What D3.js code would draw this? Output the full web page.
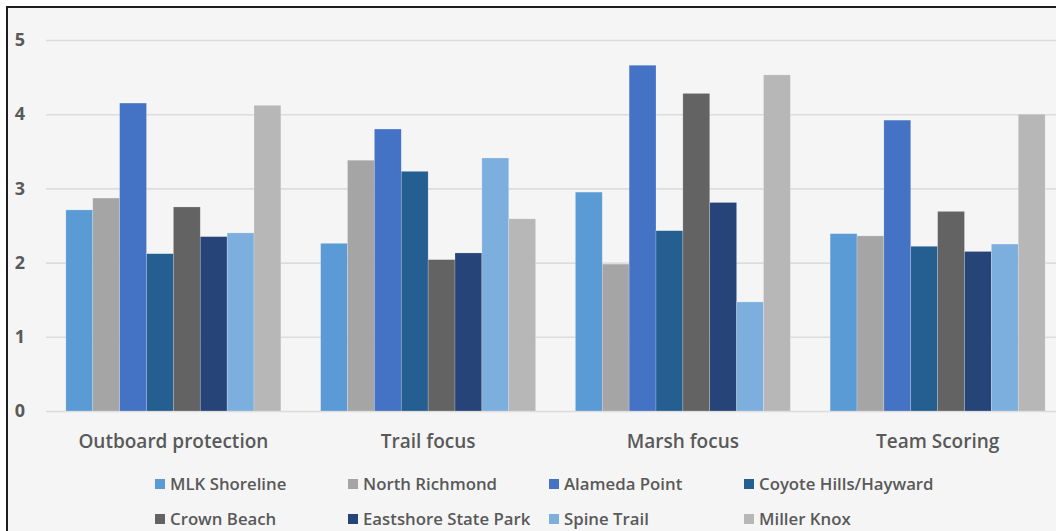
<!DOCTYPE html>
<html>
<head>
<meta charset="utf-8">
<script src="https://cdn.jsdelivr.net/npm/d3@7/dist/d3.min.js"></script>
<style>
  html, body { margin: 0; padding: 0; background: #ffffff; }
  svg { display: block; }
  text { font-family: "Open Sans", "Noto Sans", sans-serif; }
</style>
</head>
<body>
<svg id="chart" width="1056" height="531"></svg>
<script>
// Criteria being scored
const categories = ["Outboard protection", "Trail focus", "Marsh focus", "Team Scoring"];

// Sites (one bar per site in each criterion group)
const sites = ["MLK Shoreline", "North Richmond", "Alameda Point", "Coyote Hills/Hayward",
               "Crown Beach", "Eastshore State Park", "Spine Trail", "Miller Knox"];

// Scores per site, in the order of `categories`
const mlkShoreline       = [2.71, 2.26, 2.95, 2.39];
const northRichmond      = [2.87, 3.38, 1.98, 2.36];
const alamedaPoint       = [4.15, 3.80, 4.66, 3.92];
const coyoteHillsHayward = [2.12, 3.23, 2.43, 2.22];
const crownBeach         = [2.75, 2.04, 4.28, 2.69];
const eastshoreStatePark = [2.35, 2.13, 2.81, 2.15];
const spineTrail         = [2.40, 3.41, 1.47, 2.25];
const millerKnox         = [4.12, 2.59, 4.53, 4.00];

const yTicks = [0, 1, 2, 3, 4, 5];

const seriesValues = [mlkShoreline, northRichmond, alamedaPoint, coyoteHillsHayward,
                      crownBeach, eastshoreStatePark, spineTrail, millerKnox];

const colors = ["#5b9bd5", "#a5a5a5", "#4472c4", "#255e91",
                "#636363", "#264478", "#7cafdd", "#b7b7b7"];

const svg = d3.select("#chart");

// Framed panel (continues past the right and bottom edges)
svg.append("rect")
  .attr("x", 7).attr("y", 7)
  .attr("width", 1070).attr("height", 540)
  .attr("fill", "#f5f5f5")
  .attr("stroke", "#1c1c1c")
  .attr("stroke-width", 2);

const plotLeft = 46, plotRight = 1065;
const y = d3.scaleLinear().domain([0, 5]).range([411, 40]);

const x0 = d3.scaleBand()
  .domain(categories)
  .range([plotLeft, plotRight])
  .paddingInner(0.156)
  .paddingOuter(0.078);

const x1 = d3.scaleBand()
  .domain(sites)
  .range([0, x0.bandwidth()])
  .padding(0);

const color = d3.scaleOrdinal().domain(sites).range(colors);

// Gridlines and value labels
const yAxis = svg.append("g")
  .attr("transform", `translate(${plotLeft},0)`)
  .call(d3.axisLeft(y).tickValues(yTicks).tickFormat(d3.format("d"))
    .tickSize(-(plotRight - plotLeft)).tickPadding(21));
yAxis.select(".domain").remove();
yAxis.selectAll(".tick line")
  .attr("stroke", "#dcdcdc")
  .attr("stroke-width", 1.6);
yAxis.selectAll(".tick text")
  .attr("fill", "#595959")
  .attr("font-size", 18)
  .attr("font-weight", 700);

// Bars
const rows = categories.map((c, i) => ({
  category: c,
  values: sites.map((s, j) => ({ site: s, value: seriesValues[j][i] }))
}));

const groups = svg.append("g").selectAll("g")
  .data(rows)
  .join("g")
  .attr("transform", d => `translate(${x0(d.category)},0)`);

groups.selectAll("rect")
  .data(d => d.values)
  .join("rect")
  .attr("x", d => x1(d.site))
  .attr("y", d => y(d.value))
  .attr("width", x1.bandwidth())
  .attr("height", d => y(0) - y(d.value))
  .attr("fill", d => color(d.site))
  .attr("stroke", "rgba(255,255,255,0.35)")
  .attr("stroke-width", 0.6);

// Category labels
const xAxis = svg.append("g")
  .attr("transform", `translate(0,${y(0)})`)
  .call(d3.axisBottom(x0).tickSize(0).tickPadding(24));
xAxis.select(".domain").remove();
xAxis.selectAll(".tick text")
  .attr("fill", "#595959")
  .attr("font-size", 19)
  .attr("font-weight", 600);

// Legend, two rows of four
const legendCols = [155, 348, 549, 744];
const legendRows = [484, 519];
const legend = svg.append("g").selectAll("g")
  .data(sites)
  .join("g")
  .attr("transform", (d, i) => `translate(${legendCols[i % 4]},${legendRows[Math.floor(i / 4)]})`);

legend.append("rect")
  .attr("x", 0).attr("y", -5)
  .attr("width", 10).attr("height", 10)
  .attr("fill", d => color(d));

legend.append("text")
  .attr("x", 15).attr("y", 0)
  .attr("dy", "0.35em")
  .attr("fill", "#595959")
  .attr("font-size", 16.8)
  .attr("font-weight", 600)
  .text(d => d);
</script>
</body>
</html>
